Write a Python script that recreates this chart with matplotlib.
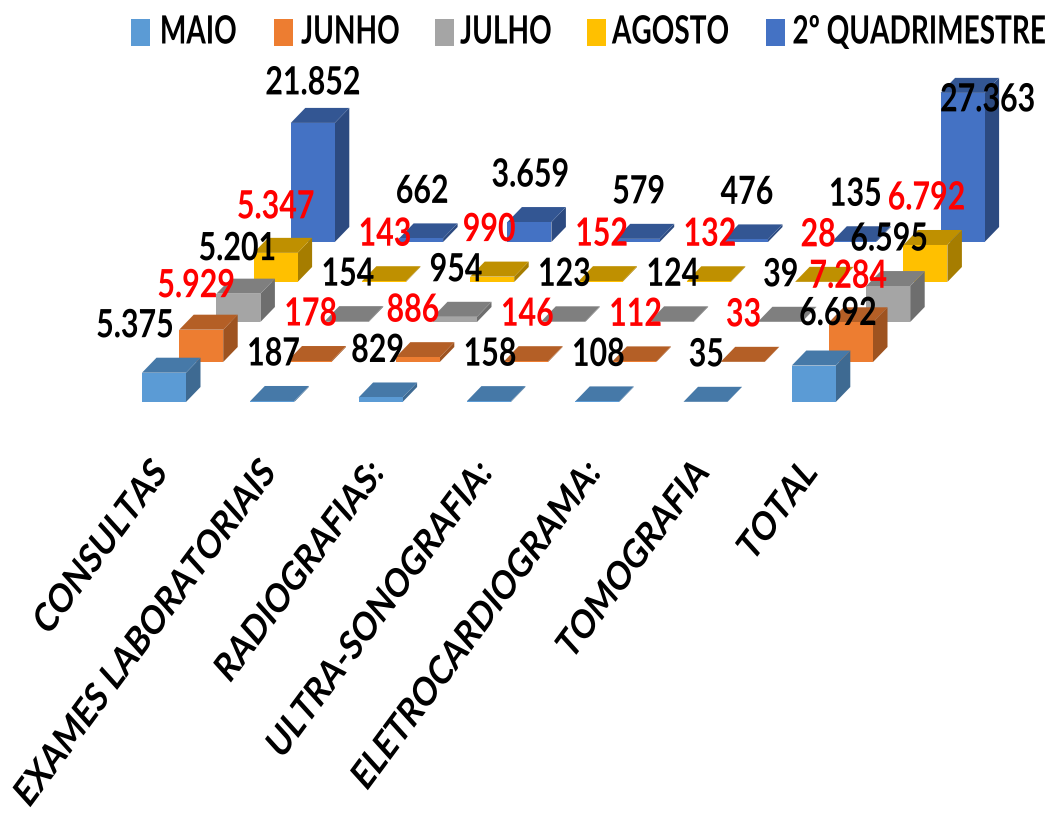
import matplotlib
matplotlib.use("Agg")
import matplotlib.pyplot as plt
from matplotlib.patches import Polygon, Rectangle
from matplotlib.patheffects import AbstractPathEffect
from matplotlib.transforms import Affine2D

categories = ["CONSULTAS", "EXAMES LABORATORIAIS", "RADIOGRAFIAS:", "ULTRA-SONOGRAFIA:",
              "ELETROCARDIOGRAMA:", "TOMOGRAFIA", "TOTAL"]
series_names = ["MAIO", "JUNHO", "JULHO", "AGOSTO", "2º QUADRIMESTRE"]

maio = [5375, 187, 829, 158, 108, 35, 6692]
junho = [5929, 178, 886, 146, 112, 33, 7284]
julho = [5201, 154, 954, 123, 124, 39, 6595]
agosto = [5347, 143, 990, 152, 132, 28, 6792]
quadrimestre = [21852, 662, 3659, 579, 476, 135, 27363]
all_series = [maio, junho, julho, agosto, quadrimestre]

front_colors = ["#5B9BD5", "#ED7D31", "#A5A5A5", "#FFC000", "#4472C4"]
top_colors = ["#4679A8", "#B45F26", "#7F7F7F", "#BF9000", "#335693"]
side_colors = ["#3E6A92", "#9E5320", "#6E6E6E", "#A67D00", "#2C4A80"]
label_colors = ["black", "red", "black", "red", "black"]

# oblique projection, in pixels of the picture
X0, Y0 = 142, 402
CAT_STEP = 108.3
SER_DX, SER_DY = 37.2, -40
BAR_W = 44
DEPTH_X, DEPTH_Y = 14.5, -15
PX_PER_UNIT = 0.00545

FONT = "Lato"

# label moves where the automatic position was shifted (series, category): dx, dy
nudges = {
    (0, 0): (-29, 3), (1, 0): (-5, 6), (2, 0): (-1, 5), (3, 0): (0, 4), (4, 0): (0, 10),
    (0, 2): (-3, 3), (1, 2): (-5, 3), (3, 2): (-3, 3),
    (0, 6): (24, -2), (1, 6): (-3, 4), (4, 6): (25, 57),
}


class Squeeze(AbstractPathEffect):
    # the reference text is stretched, so redraw the glyphs narrower around one anchor
    def __init__(self, sx, anchor, lean=0):
        super().__init__()
        self.sx = sx
        self.anchor = anchor
        self.lean = lean

    def draw_path(self, renderer, gc, tpath, affine, rgbFace=None):
        box = tpath.get_extents()
        a = {"left": box.x0, "center": (box.x0 + box.x1) / 2, "right": box.x1}[self.anchor]
        local = Affine2D().translate(-a, 0).skew_deg(self.lean, 0).scale(self.sx, 1).translate(a, 0)
        renderer.draw_path(gc, tpath, local + affine, rgbFace)


fig = plt.figure(figsize=(10.56, 8.13), dpi=100)
ax = fig.add_axes([0, 0, 1, 1])
ax.set_xlim(0, 1056)
ax.set_ylim(813, 0)
ax.axis("off")

for s in range(4, -1, -1):
    for c in range(7):
        x = X0 + c * CAT_STEP + s * SER_DX
        base = Y0 + s * SER_DY
        top = base - all_series[s][c] * PX_PER_UNIT
        ax.add_patch(Polygon([(x + BAR_W, base), (x + BAR_W + DEPTH_X, base + DEPTH_Y),
                              (x + BAR_W + DEPTH_X, top + DEPTH_Y), (x + BAR_W, top)],
                             fc=side_colors[s], ec="none"))
        ax.add_patch(Polygon([(x, top), (x + BAR_W, top),
                              (x + BAR_W + DEPTH_X, top + DEPTH_Y), (x + DEPTH_X, top + DEPTH_Y)],
                             fc=top_colors[s], ec="none"))
        ax.add_patch(Rectangle((x, top), BAR_W, base - top, fc=front_colors[s], ec="none"))

for s in range(5):
    for c in range(7):
        x = X0 + c * CAT_STEP + s * SER_DX + BAR_W / 2
        top = Y0 + s * SER_DY - all_series[s][c] * PX_PER_UNIT
        dx, dy = nudges.get((s, c), (1, 3))
        txt = f"{all_series[s][c]:,}".replace(",", ".")
        ax.text(x + dx, top - 50 + dy, txt, color=label_colors[s], fontsize=28,
                family=FONT, weight="bold", ha="center", va="center", zorder=5,
                path_effects=[Squeeze(0.78, "center")])

for c, name in enumerate(categories):
    ax.text(X0 + 18 + c * CAT_STEP, 468, name, rotation=53.5, rotation_mode="anchor",
            ha="right", va="center", fontsize=26, family=FONT, weight="bold", zorder=5,
            path_effects=[Squeeze(0.95, "right", lean=12)])

swatch_x = [131, 274, 435, 587, 766]
text_x = [159, 301, 460, 612, 792]
for s, name in enumerate(series_names):
    ax.add_patch(Rectangle((swatch_x[s], 19), 19, 27, fc=front_colors[s], ec="none"))
    ax.text(text_x[s], 32, name, fontsize=28, family=FONT, weight="bold", ha="left",
            va="center", path_effects=[Squeeze(0.72, "left")])

fig.savefig("out.png", dpi=100)
